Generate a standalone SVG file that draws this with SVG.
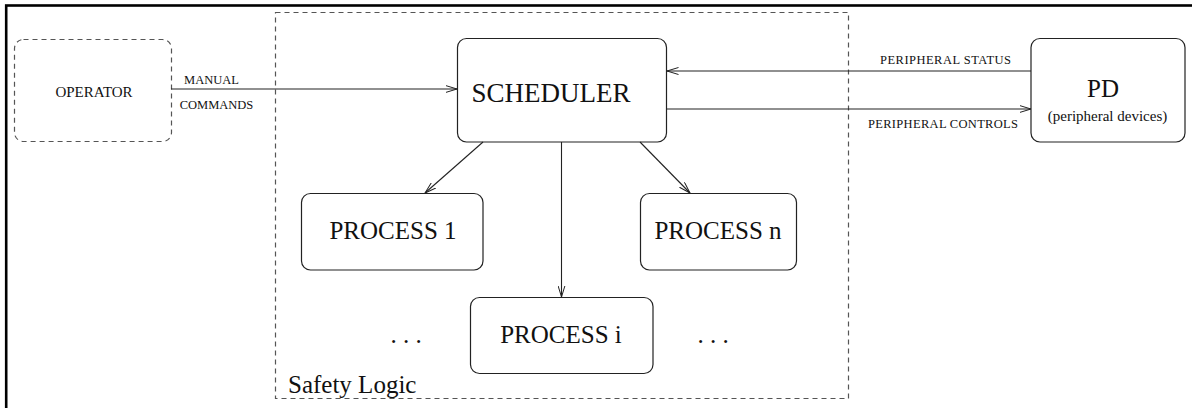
<svg xmlns="http://www.w3.org/2000/svg" width="1192" height="408" viewBox="0 0 1192 408">
<style>
.box{fill:#fff;stroke:#222;stroke-width:1.2}
.dash{fill:none;stroke:#555;stroke-width:1.2;stroke-dasharray:5,4}
.big{font-family:"Liberation Serif",serif;font-size:25px;fill:#111;text-anchor:middle}
.mid{font-family:"Liberation Serif",serif;font-size:15px;fill:#111;text-anchor:middle}
.sm{font-family:"Liberation Serif",serif;font-size:12.5px;fill:#111;text-anchor:middle}
.edge{fill:none;stroke:#222;stroke-width:1.1;marker-end:url(#arr)}
</style>
<defs>
<marker id="arr" viewBox="0 0 12 8" refX="11.5" refY="4" markerWidth="12" markerHeight="8" markerUnits="userSpaceOnUse" orient="auto">
<path d="M0,0.5 L11.5,4 L0,7.5" fill="none" stroke="#222" stroke-width="1"/>
</marker>
</defs>
<rect width="1192" height="408" fill="#fff"/>
<rect x="6.2" y="5.5" width="1300" height="500" fill="none" stroke="#000" stroke-width="2.6"/>
<g id="safety-logic">
<rect class="dash" x="275.5" y="12.5" width="573" height="386"/>
<text x="288" y="393" style="font-family:'Liberation Serif',serif;font-size:25px;fill:#111">Safety Logic</text>
</g>
<g id="operator">
<rect class="dash" x="14.5" y="39.5" width="157" height="102" rx="9"/>
<text class="mid" x="94" y="97">OPERATOR</text>
</g>
<g id="scheduler">
<rect class="box" x="457.5" y="38.5" width="209" height="103.5" rx="9"/>
<text class="big" x="551" y="102" style="font-size:27px">SCHEDULER</text>
</g>
<g id="pd">
<rect class="box" x="1031" y="38.5" width="154" height="103.5" rx="9"/>
<text class="big" x="1103" y="97">PD</text>
<text class="mid" x="1107.5" y="121">(peripheral devices)</text>
</g>
<g id="process1">
<rect class="box" x="301.5" y="193.5" width="181.5" height="76.5" rx="9"/>
<text class="big" x="393" y="239">PROCESS 1</text>
</g>
<g id="processn">
<rect class="box" x="640.5" y="193.5" width="156" height="76.5" rx="9"/>
<text class="big" x="718" y="239">PROCESS n</text>
</g>
<g id="processi">
<rect class="box" x="470.5" y="297.5" width="182.5" height="76" rx="9"/>
<text class="big" x="561" y="343">PROCESS i</text>
</g>
<g id="dots">
<text class="big" x="406" y="343">. . .</text>
<text class="big" x="713" y="343">. . .</text>
</g>
<g id="connectors">
<line class="edge" x1="171" y1="89" x2="457" y2="89"/>
<line class="edge" x1="1031" y1="71" x2="667" y2="71"/>
<line class="edge" x1="666.5" y1="109" x2="1031" y2="109"/>
<line class="edge" x1="483" y1="142" x2="425" y2="193"/>
<line class="edge" x1="561.5" y1="142" x2="561.5" y2="297"/>
<line class="edge" x1="640" y1="142" x2="690" y2="193"/>
<text class="sm" x="211.5" y="84">MANUAL</text>
<text class="sm" x="216.5" y="109">COMMANDS</text>
<text class="sm" x="945.5" y="64" textLength="131">PERIPHERAL STATUS</text>
<text class="sm" x="943" y="128" textLength="150">PERIPHERAL CONTROLS</text>
</g>
</svg>
